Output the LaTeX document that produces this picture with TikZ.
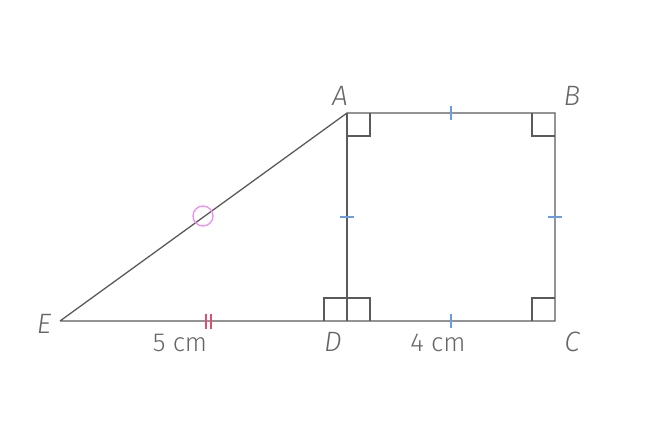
\documentclass[tikz,border=0pt]{standalone}
\usepackage{fontspec}
\setmainfont{Fira Sans Light}[ItalicFont={Fira Sans Light Italic}]
\definecolor{lin}{HTML}{5A5A5A}
\definecolor{txt}{HTML}{666666}
\definecolor{tk}{HTML}{6A9BE6}
\definecolor{rd}{HTML}{E0506E}
\definecolor{pk}{HTML}{F08CF0}
\usetikzlibrary{calc}
\tikzset{
  side/.style={lin, line width=1.3pt},
  rtang/.style={lin, line width=1.3pt},
  tick/.style={tk, line width=1.1pt},
  vlabel/.style={txt, font=\fontsize{28}{28}\selectfont\itshape},
  mlabel/.style={txt, font=\fontsize{26}{26}\selectfont}
}

\begin{document}
\begin{tikzpicture}[x=1pt,y=-1pt]
			\useasboundingbox (0,0) rectangle (658,439);

			\coordinate (A) at (347,113);
			\coordinate (B) at (555,113);
			\coordinate (C) at (555,321);
			\coordinate (D) at (347,321);
			\coordinate (E) at (60,321);

			% right angles
			\draw[rtang] (347,136) -- (370,136) -- (370,113);
			\draw[rtang] (532,113) -- (532,136) -- (555,136);
			\draw[rtang] (532,321) -- (532,298) -- (555,298);
			\draw[rtang] (324,321) -- (324,298) -- (370,298) -- (370,321);

			\draw[side] (E) -- (A) -- (B) -- (C) -- (E);
			\draw[side] (A) -- (D);

			% equal sides
			\draw[tick] (451,106) -- (451,120);
			\draw[tick] (451,314) -- (451,328);
			\draw[tick] (340,217) -- (354,217);
			\draw[tick] (548,217) -- (562,217);
			\draw[rd, line width=1.1pt] (206,314) -- (206,329);
			\draw[rd, line width=1.1pt] (211,314) -- (211,329);

			\draw[pk, line width=1.3pt] (203,216) circle (10);

			\node[vlabel] (lA) at (340,96) {A};
			\node[vlabel] (lB) at (572,96) {B};
			\node[vlabel] (lC) at (572,342) {C};
			\node[vlabel] (lD) at (333,342) {D};
			\node[vlabel] (lE) at (44,324) {E};
			\node[mlabel] (ED) at (180,343) {5 cm};
			\node[mlabel] (DC) at (438,343) {4 cm};
		\end{tikzpicture}
\end{document}
